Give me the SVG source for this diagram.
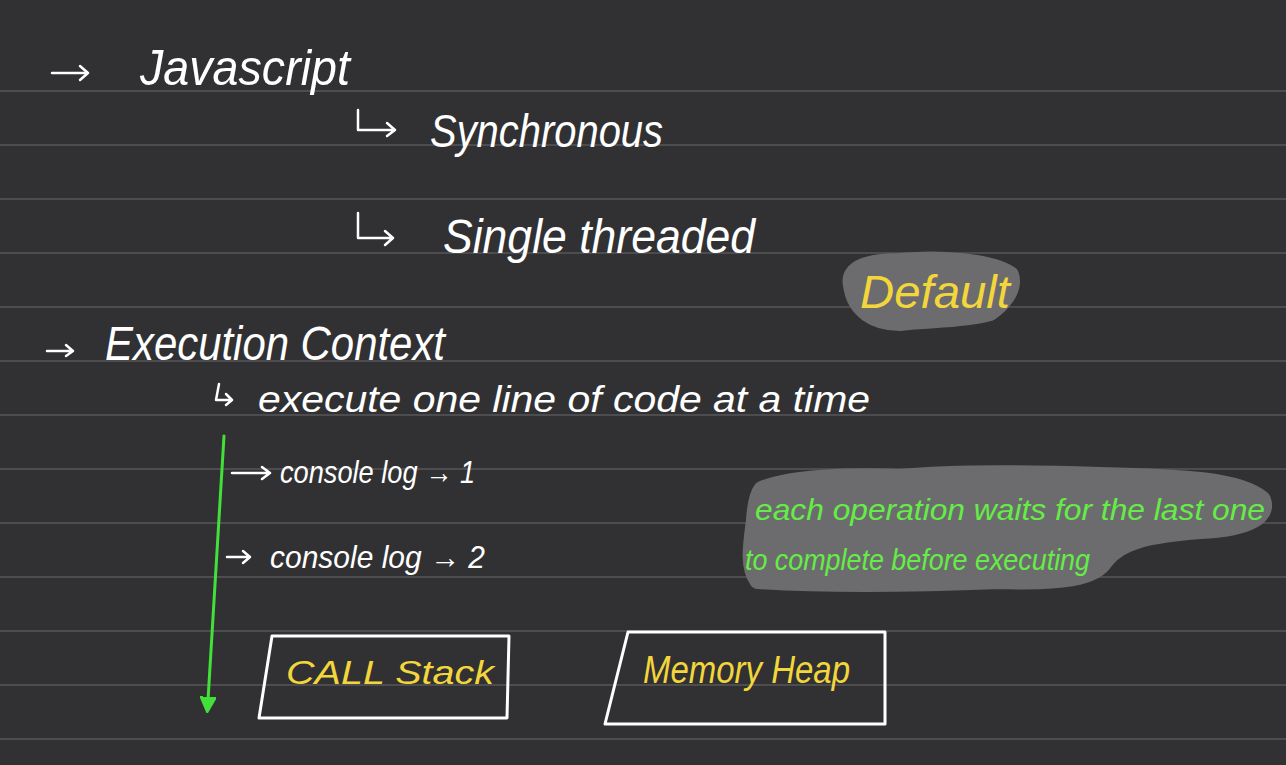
<svg xmlns="http://www.w3.org/2000/svg" width="1286" height="765" viewBox="0 0 1286 765">
<defs>
<style>
.bg{fill:#313133}
.rule{stroke:#4d4d50;stroke-width:2}
.w{fill:#ffffff;font-family:"Liberation Sans",Arial,sans-serif;font-style:italic}
.y{fill:#f3d63c;font-family:"Liberation Sans",Arial,sans-serif;font-style:italic}
.g{fill:#66ec46;font-family:"Liberation Sans",Arial,sans-serif;font-style:italic}
.pen{fill:none;stroke:#ffffff;stroke-width:2.5;stroke-linecap:round;stroke-linejoin:round}
.box{fill:none;stroke:#ffffff;stroke-width:3;stroke-linejoin:round}
.blob{fill:#6c6c6e;stroke:#6c6c6e;stroke-linejoin:round;stroke-width:18}
.flow{fill:none;stroke:#44e03a;stroke-width:3;stroke-linecap:round}
</style>
<marker id="gh" viewBox="0 0 10 10" refX="2" refY="5" markerWidth="16" markerHeight="16" orient="auto" markerUnits="userSpaceOnUse">
<path d="M0,0 L10,5 L0,10 Z" fill="#44e03a" stroke="#44e03a" stroke-width="1" stroke-linejoin="round"/>
</marker>
</defs>
<rect class="bg" x="0" y="0" width="1286" height="765"/>
<g id="rules">
<line class="rule" x1="0" y1="91" x2="1286" y2="91"/>
<line class="rule" x1="0" y1="145" x2="1286" y2="145"/>
<line class="rule" x1="0" y1="199" x2="1286" y2="199"/>
<line class="rule" x1="0" y1="253" x2="1286" y2="253"/>
<line class="rule" x1="0" y1="307" x2="1286" y2="307"/>
<line class="rule" x1="0" y1="361" x2="1286" y2="361"/>
<line class="rule" x1="0" y1="415" x2="1286" y2="415"/>
<line class="rule" x1="0" y1="469" x2="1286" y2="469"/>
<line class="rule" x1="0" y1="523" x2="1286" y2="523"/>
<line class="rule" x1="0" y1="577" x2="1286" y2="577"/>
<line class="rule" x1="0" y1="631" x2="1286" y2="631"/>
<line class="rule" x1="0" y1="685" x2="1286" y2="685"/>
<line class="rule" x1="0" y1="739" x2="1286" y2="739"/>
</g>
<g id="highlights">
<path class="blob" d="M852,285 C848,268 870,262 900,262 C940,258 990,262 1010,275 C1015,290 1000,305 990,312 C960,320 930,318 900,322 C875,322 855,310 852,285 Z"/>
<path class="blob" d="M762,490 C790,478 850,476 900,478 C960,472 1040,474 1100,476 C1180,478 1240,480 1262,500 C1268,515 1250,528 1200,530 C1150,534 1120,540 1105,560 C1095,578 1060,582 1000,580 C900,584 820,584 758,580 C748,565 752,545 755,520 C756,505 758,495 762,490 Z"/>
</g>
<g id="connectors">
<path class="pen" d="M52,73 L88,73 M80,66 L88,73 L80,80"/>
<path class="pen" d="M358,110 L358,130 L395,130 M387,123 L395,130 L387,136"/>
<path class="pen" d="M358,213 L358,238 L393,238 M385,231 L393,238 L385,245"/>
<path class="pen" d="M47,351 L73,351 M66,345 L73,351 L66,356"/>
<path class="pen" d="M219,384 L216,400 L232,400 M226,394 L232,400 L226,405"/>
<path class="pen" d="M232,473 L270,473 M262,467 L270,473 L262,479"/>
<path class="pen" d="M227,557 L250,557 M243,551 L250,557 L243,563"/>
<path class="flow" d="M224,436 L208,700" marker-end="url(#gh)"/>
</g>
<g id="javascript">
<text class="w" x="140" y="85" font-size="50" textLength="210" lengthAdjust="spacingAndGlyphs">Javascript</text>
</g>
<g id="synchronous">
<text class="w" x="430" y="147" font-size="46" textLength="233" lengthAdjust="spacingAndGlyphs">Synchronous</text>
</g>
<g id="single-threaded">
<text class="w" x="443" y="253" font-size="48" textLength="312" lengthAdjust="spacingAndGlyphs">Single threaded</text>
</g>
<g id="default">
<text class="y" x="860" y="308" font-size="46" textLength="150" lengthAdjust="spacingAndGlyphs">Default</text>
</g>
<g id="execution-context">
<text class="w" x="105" y="360" font-size="48" textLength="340" lengthAdjust="spacingAndGlyphs">Execution Context</text>
</g>
<g id="execute-line">
<text class="w" x="258" y="412" font-size="36" textLength="612" lengthAdjust="spacingAndGlyphs">execute one line of code at a time</text>
</g>
<g id="console-log-1">
<text class="w" x="280" y="483" font-size="32" textLength="195" lengthAdjust="spacingAndGlyphs">console log → 1</text>
</g>
<g id="console-log-2">
<text class="w" x="270" y="568" font-size="32" textLength="215" lengthAdjust="spacingAndGlyphs">console log → 2</text>
</g>
<g id="wait-note">
<text class="g" x="755" y="520" font-size="29" textLength="510" lengthAdjust="spacingAndGlyphs">each operation waits for the last one</text>
<text class="g" x="745" y="570" font-size="29" textLength="345" lengthAdjust="spacingAndGlyphs">to complete before executing</text>
</g>
<g id="call-stack">
<path class="box" d="M272,636 L509,636 L507,718 L259,718 Z"/>
<text class="y" x="286" y="684" font-size="34" textLength="208" lengthAdjust="spacingAndGlyphs">CALL Stack</text>
</g>
<g id="memory-heap">
<path class="box" d="M628,632 L885,632 L885,724 L605,724 Z"/>
<text class="y" x="643" y="683" font-size="38" textLength="207" lengthAdjust="spacingAndGlyphs">Memory Heap</text>
</g>
</svg>
